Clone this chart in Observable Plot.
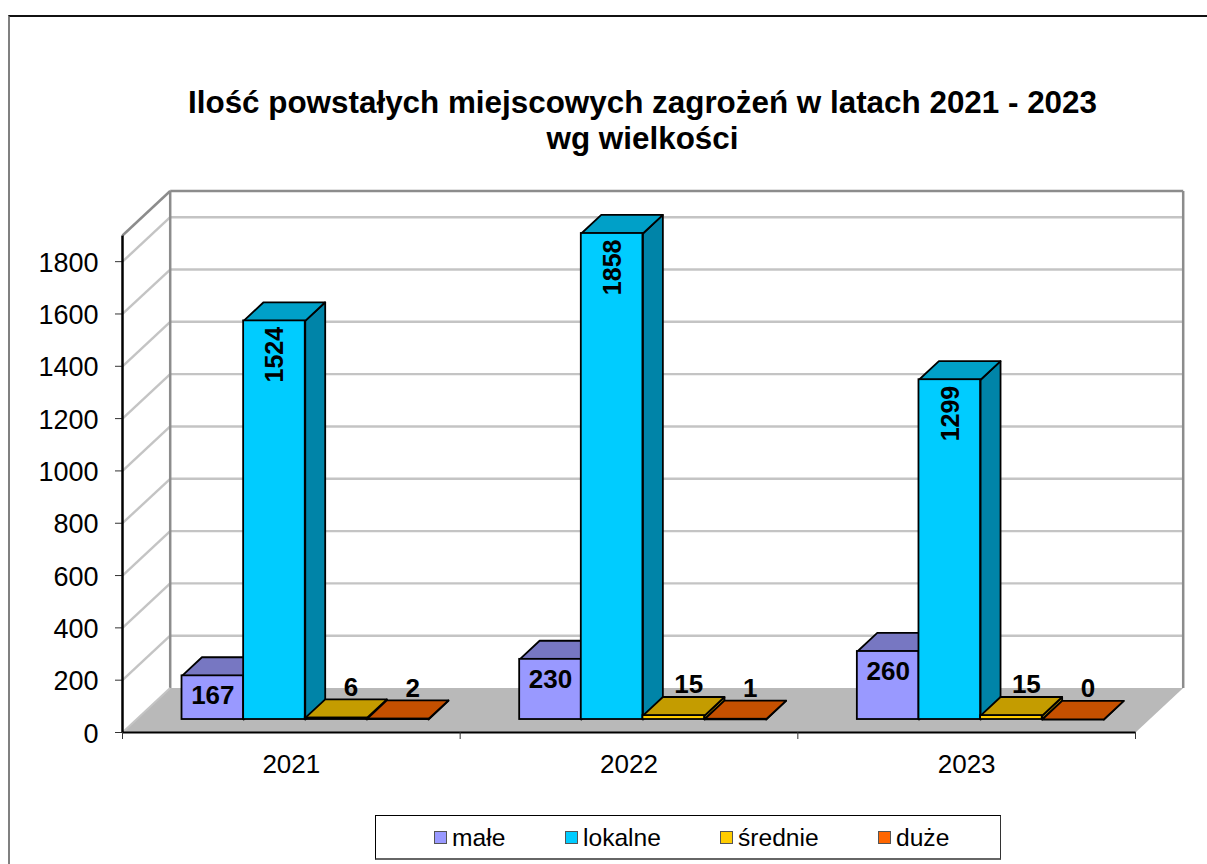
<!DOCTYPE html>
<html lang="pl">
<head>
<meta charset="utf-8">
<title>Ilość powstałych miejscowych zagrożeń</title>
<script src="https://cdn.jsdelivr.net/npm/d3@7"></script>
<script src="https://cdn.jsdelivr.net/npm/@observablehq/plot@0.6"></script>
<style>
html,body{margin:0;padding:0;background:#fff;overflow:hidden}
body{width:1207px;height:864px;position:relative;font-family:"Liberation Sans",Arial,sans-serif;color:#000}
#frame{position:absolute;left:8px;top:15px;right:-10px;bottom:-10px;border-top:2px solid #111;border-left:2px solid #808080}
#title{position:absolute;left:0;width:1285px;top:85px;text-align:center;font-weight:bold;font-size:31.4px;line-height:36px;margin:0}
#chart{position:absolute;left:0;top:160px}
#chart svg{display:block;background:transparent}
#legend{position:absolute;left:375px;top:815px;width:624px;height:42px;border:1px solid #000;border-bottom:2px solid #666;border-right:1px solid #333;font-size:24.6px}
.item{position:absolute;top:0;height:42px;line-height:44px;white-space:nowrap}
.sw{position:absolute;left:-18px;top:15px;width:11px;height:11px;border:1.5px solid #555}
</style>
</head>
<body>
<div id="frame"></div>
<h1 id="title">Ilość powstałych miejscowych zagrożeń w latach 2021 - 2023<br>wg wielkości</h1>
<div id="chart"></div>
<div id="legend"></div>
<script>
const years = ["2021", "2022", "2023"];
const seriesNames = ["małe", "lokalne", "średnie", "duże"];
const male = [167, 230, 260];
const lokalne = [1524, 1858, 1299];
const srednie = [6, 15, 15];
const duze = [2, 1, 0];
const seriesValues = [male, lokalne, srednie, duze];
const frontColors = ["#9999FF", "#00CCFF", "#FFCC00", "#FF6600"];
const topColors = ["#7777C2", "#00A0C8", "#C49C00", "#C55000"];
const sideColors = ["#5F5F9C", "#0084A8", "#9C7C00", "#9C4000"];
const yTicks = [0, 200, 400, 600, 800, 1000, 1200, 1400, 1600, 1800];
const yMax = 1900;

// oblique projection: depth 0..1 moves a point back by this much, in scale units
const depthX = 47.7 / 337.67, depthY = 170;
const P = (x, v, d) => ({x: x + d * depthX, y: v + d * depthY});
const d1 = 0.292, d2 = 0.71, gap = 0.135, bw = 0.1825;

const poly = (pts, fill, stroke, sw) => Plot.line(pts, {x: "x", y: "y", fill, stroke, strokeWidth: sw, curve: "linear-closed", strokeLinejoin: "round"});
const seg = (a, b, stroke, sw) => Plot.link([{a, b}], {x1: d => d.a.x, y1: d => d.a.y, x2: d => d.b.x, y2: d => d.b.y, stroke, strokeWidth: sw});

const marks = [];
// floor
marks.push(poly([P(0,0,0), P(3,0,0), P(3,0,1), P(0,0,1)], "#B9B9B9", "none", 0));
// grid lines on the back and side walls
for (const t of yTicks) {
  if (t > 0) {
    marks.push(seg(P(0,t,0), P(0,t,1), "#C4C4C4", 2.4));
    marks.push(seg(P(0,t,1), P(3,t,1), "#C4C4C4", 2.4));
  }
}
// wall outlines
marks.push(seg(P(0,0,1), P(0,yMax,1), "#8C8C8C", 2.5));
marks.push(seg(P(3,0,1), P(3,yMax,1), "#8C8C8C", 2.5));
marks.push(seg(P(0,yMax,1), P(3,yMax,1), "#8C8C8C", 2.5));
marks.push(seg(P(0,yMax,0), P(0,yMax,1), "#8C8C8C", 2.5));
marks.push(seg(P(0,0,0), P(0,0,1), "#C4C4C4", 2));
// bars
years.forEach((yr, g) => {
  seriesValues.forEach((vals, s) => {
    const v = vals[g];
    const x0 = g + gap + s * bw, x1 = x0 + bw;
    marks.push(poly([P(x1,0,d1), P(x1,0,d2), P(x1,v,d2), P(x1,v,d1)], sideColors[s], "#000", 1.8));
    marks.push(poly([P(x0,v,d1), P(x1,v,d1), P(x1,v,d2), P(x0,v,d2)], topColors[s], "#000", 1.8));
    const a = P(x0,0,d1), b = P(x1,v,d1);
    marks.push(Plot.rect([{a, b}], {x1: d => d.a.x, x2: d => d.b.x, y1: d => d.a.y, y2: d => d.b.y, fill: frontColors[s], stroke: "#000", strokeWidth: 1.8}));
  });
});
// value labels
const labelFont = {fontWeight: "bold", fontSize: 26, fill: "#000"};
years.forEach((yr, g) => {
  seriesValues.forEach((vals, s) => {
    const v = vals[g];
    const xc = g + gap + (s + 0.5) * bw;
    const top = P(xc, v, d1), back = P(xc, v, d2);
    let o;
    if (s === 0) o = {x: top.x, y: top.y, dx: 0, dy: 20, textAnchor: "middle"};
    else if (s === 1) o = {x: top.x, y: top.y, dx: 1, dy: 6, rotate: -90, textAnchor: "end"};
    else o = {x: back.x, y: back.y, dx: -5, dy: -12, textAnchor: "middle"};
    const {x, y, ...rest} = o;
    marks.push(Plot.text([{x, y, t: String(v)}], {x: "x", y: "y", text: "t", ...labelFont, ...rest, ...(s === 1 ? {fontSize: 25} : {}), lineAnchor: "middle"}));
  });
});
// axes
marks.push(Plot.axisY({ticks: yTicks, tickFormat: () => "", tickSize: 7, anchor: "left", stroke: "#333", label: null}));
marks.push(Plot.axisY({ticks: yTicks, tickFormat: "d", tickSize: 0, tickPadding: 24, fontSize: 27, anchor: "left", dy: 1.5, fill: "#000", label: null}));
marks.push(seg(P(0,0,0), P(0,yMax,0), "#000", 2.5));
marks.push(seg(P(0,0,0), P(3,0,0), "#000", 2));
marks.push(Plot.axisX({ticks: [0, 1, 2, 3], tickFormat: () => "", tickSize: 7, stroke: "#333", anchor: "bottom", label: null}));
marks.push(Plot.axisX({ticks: [0.5, 1.5, 2.5], tickFormat: d => years[Math.floor(d)], tickSize: 0, tickPadding: 22, fontSize: 26, anchor: "bottom", fill: "#000", label: null}));

const chart = Plot.plot({
  width: 1207, height: 650,
  marginLeft: 122, marginRight: 72, marginTop: 75, marginBottom: 78,
  style: {fontFamily: "'Liberation Sans', Arial, sans-serif", background: "transparent", overflow: "visible"},
  x: {domain: [0, 3], axis: null},
  y: {domain: [0, yMax], axis: null},
  marks
});
document.getElementById("chart").appendChild(chart);

// legend
const legendLeft = [76, 207, 362, 520];
const legend = document.getElementById("legend");
seriesNames.forEach((n, i) => {
  const it = document.createElement("div");
  it.className = "item";
  it.style.left = legendLeft[i] + "px";
  const sw = document.createElement("span");
  sw.className = "sw";
  sw.style.background = frontColors[i];
  it.appendChild(sw);
  it.appendChild(document.createTextNode(n));
  legend.appendChild(it);
});
</script>
</body>
</html>
